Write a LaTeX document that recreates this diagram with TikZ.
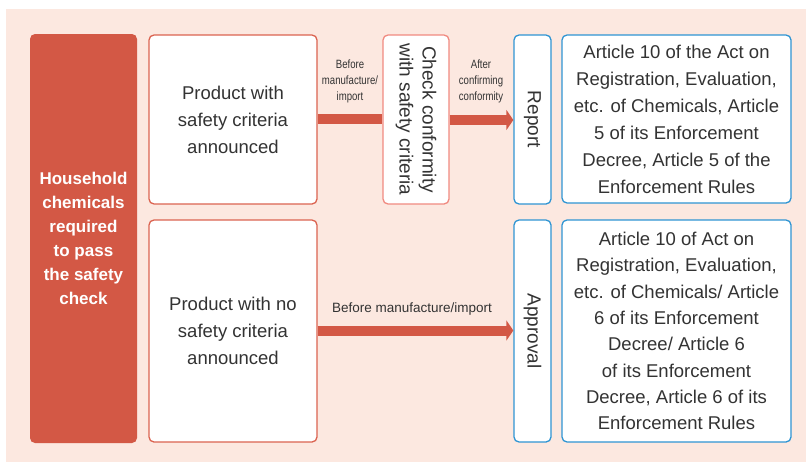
\documentclass[tikz,border=0pt]{standalone}
\usepackage{fontspec}
\setmainfont{Liberation Sans}
\newfontfamily\condfont[FakeStretch=0.8]{Liberation Sans}
\usetikzlibrary{arrows.meta}
\definecolor{bgpink}{HTML}{FCE8E0}
\definecolor{redfill}{HTML}{D35845}
\definecolor{redline}{HTML}{DB6350}
\definecolor{pinkline}{HTML}{F08A80}
\definecolor{blueline}{HTML}{2F95D3}
\definecolor{txt}{HTML}{333333}
\tikzset{
  box/.style={draw, fill=white, rounded corners=5pt, line width=1.3pt, inner sep=0pt, text=txt, align=center, font=\fontsize{18.5}{27}\selectfont},
  redbox/.style={box, draw=redline},
  bluebox/.style={box, draw=blueline},
  band/.style={draw=redfill, line width=10pt},
  bandarrow/.style={band, -{Triangle[length=7pt,width=20pt]}},
  smalllbl/.style={text=txt, align=center, font=\condfont\fontsize{12}{16}\selectfont},
}
\begin{document}
\begin{tikzpicture}[x=1pt,y=-1pt]
\useasboundingbox (0,0) rectangle (806,463);
\fill[bgpink] (6,9) rectangle (806,462);
\node[fill=redfill, rounded corners=5pt, minimum width=107pt, minimum height=409pt, text=white, align=center, font=\bfseries\fontsize{17}{24}\selectfont, inner sep=0pt] (hc) at (83.5,238.5) {Household\\chemicals\\required\\to pass\\the safety\\check};
\node[redbox, minimum width=168pt, minimum height=169pt] (p1) at (233,119.5) {Product with\\safety criteria\\announced};
\node[redbox, minimum width=168pt, minimum height=222pt] (p2) at (233,331) {Product with no\\safety criteria\\announced};
\node[box, draw=pinkline, minimum width=66pt, minimum height=169pt] (ck) at (416,119.5) {};
\node[text=txt, rotate=-90, align=center, font=\fontsize{19}{23}\selectfont] (cktxt) at (ck.center) {Check conformity\\with safety criteria};
\node[bluebox, minimum width=37pt, minimum height=169pt] (rp) at (532.5,119.5) {};
\node[text=txt, rotate=-90, font=\fontsize{19}{23}\selectfont] (rptxt) at (rp.center) {Report};
\node[bluebox, minimum width=37pt, minimum height=222pt] (ap) at (532.5,331) {};
\node[text=txt, rotate=-90, font=\fontsize{19}{23}\selectfont] (aptxt) at (ap.center) {Approval};
\node[bluebox, minimum width=229pt, minimum height=168pt] (a1) at (676.5,119) {Article 10 of the Act on\\Registration, Evaluation,\\etc. of Chemicals, Article\\5 of its Enforcement\\Decree, Article 5 of the\\Enforcement Rules};
\node[bluebox, minimum width=229pt, minimum height=222pt, font=\fontsize{18.5}{26.3}\selectfont] (a2) at (676.5,331) {Article 10 of Act on\\Registration, Evaluation,\\etc. of Chemicals/ Article\\6 of its Enforcement\\Decree/ Article 6\\of its Enforcement\\Decree, Article 6 of its\\Enforcement Rules};
\draw[band] (p1.east |- 0,119) -- (ck.west |- 0,119);
\draw[bandarrow] (ck.east |- 0,120) -- (rp.west |- 0,120);
\draw[bandarrow] (p2.east |- 0,330.5) -- (ap.west |- 0,330.5);
\node[smalllbl] (l1) at (350,81) {Before\\manufacture/\\import};
\node[smalllbl] (l2) at (481,81) {After\\confirming\\conformity};
\node[text=txt, font=\fontsize{13.5}{16}\selectfont] (l3) at (412,309) {Before manufacture/import};
\end{tikzpicture}
\end{document}
